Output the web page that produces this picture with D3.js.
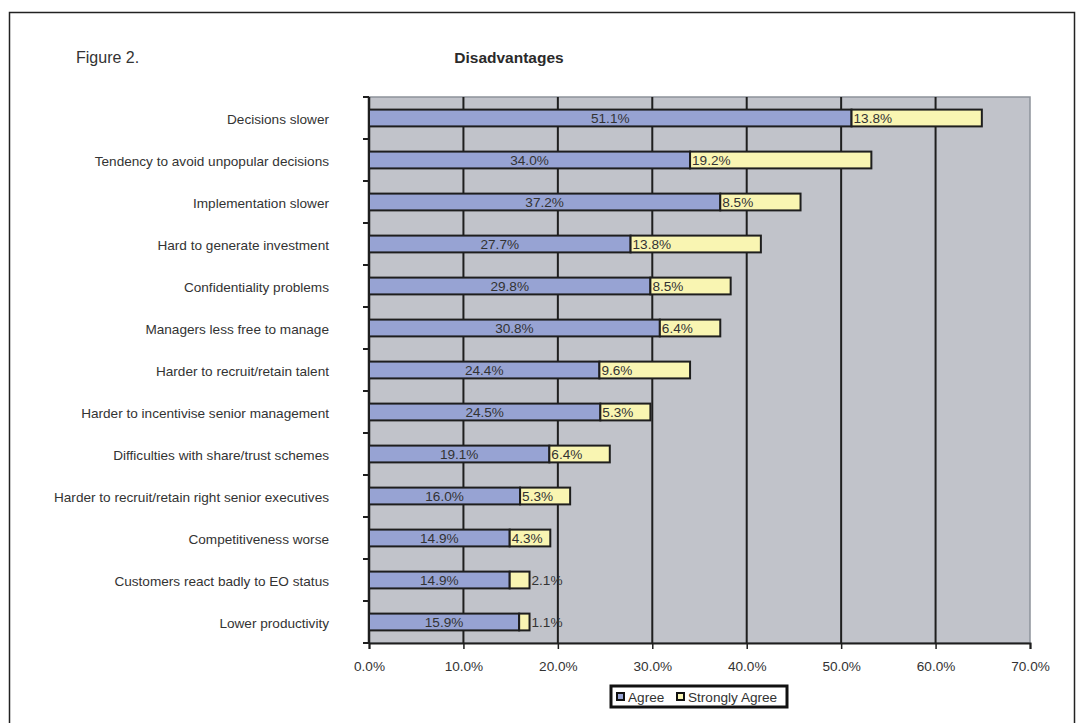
<!DOCTYPE html>
<html>
<head>
<meta charset="utf-8">
<script src="https://cdn.jsdelivr.net/npm/d3@7"></script>
<style>
html,body{margin:0;padding:0;background:#fff;}
svg{display:block;font-family:"Liberation Sans",Arial,Helvetica,sans-serif;}
</style>
</head>
<body>
<svg id="chart" width="1080" height="723"></svg>
<script>
const categories = [
  "Decisions slower",
  "Tendency to avoid unpopular decisions",
  "Implementation slower",
  "Hard to generate investment",
  "Confidentiality problems",
  "Managers less free to manage",
  "Harder to recruit/retain talent",
  "Harder to incentivise senior management",
  "Difficulties with share/trust schemes",
  "Harder to recruit/retain right senior executives",
  "Competitiveness worse",
  "Customers react badly to EO status",
  "Lower productivity"
];
const agree = [51.1, 34.0, 37.2, 27.7, 29.8, 30.8, 24.4, 24.5, 19.1, 16.0, 14.9, 14.9, 15.9];
const stronglyAgree = [13.8, 19.2, 8.5, 13.8, 8.5, 6.4, 9.6, 5.3, 6.4, 5.3, 4.3, 2.1, 1.1];
const seriesNames = ["Agree", "Strongly Agree"];
const xTicks = [0, 10, 20, 30, 40, 50, 60, 70];

const svg = d3.select("#chart");
const colAgree = "#97a3d3", colStrong = "#f9f5b2", plotBg = "#c1c3ca", textCol = "#333";
const fs = 13.6;

// outer frame
svg.append("rect").attr("x", 9.5).attr("y", 12.5).attr("width", 1065).attr("height", 730)
  .attr("fill", "none").attr("stroke", "#222").attr("stroke-width", 1.5);

svg.append("text").attr("x", 76).attr("y", 63).attr("font-size", 16).attr("fill", textCol).text("Figure 2.");
svg.append("text").attr("x", 509).attr("y", 63).attr("text-anchor", "middle").attr("font-size", 15.5)
  .attr("font-weight", "bold").attr("fill", "#2a2a2a").text("Disadvantages");

const x = d3.scaleLinear().domain([0, 70]).range([369, 1030]);
const y = d3.scaleBand().domain(categories).range([97, 643]).paddingInner(0.6).paddingOuter(0.3);

// plot background
svg.append("rect").attr("x", x(0)).attr("y", 97).attr("width", x(70) - x(0)).attr("height", 643 - 97)
  .attr("fill", plotBg).attr("stroke", "#8d939b").attr("stroke-width", 1.5);

// gridlines
svg.append("g").selectAll("line").data(xTicks.filter(t => t > 0 && t < 70)).join("line")
  .attr("x1", d => x(d)).attr("x2", d => x(d)).attr("y1", 97).attr("y2", 643)
  .attr("stroke", "#1e1e1e").attr("stroke-width", 2);

// x axis
const xAxis = d3.axisBottom(x).tickValues(xTicks).tickFormat(d => d.toFixed(1) + "%").tickSize(6).tickPadding(12);
const gx = svg.append("g").attr("transform", "translate(0,643)").call(xAxis);
gx.select(".domain").attr("stroke", "#1e1e1e").attr("stroke-width", 2);
gx.selectAll(".tick line").attr("stroke", "#1e1e1e").attr("stroke-width", 1.5);
gx.selectAll(".tick text").attr("font-size", fs).attr("fill", textCol)
  .attr("font-family", "'Liberation Sans',Arial,sans-serif");

// y axis (ticks at band boundaries)
const step = y.step();
const boundaries = d3.range(categories.length + 1).map(i => 97 + i * step);
svg.append("line").attr("x1", x(0)).attr("x2", x(0)).attr("y1", 97).attr("y2", 643)
  .attr("stroke", "#1e1e1e").attr("stroke-width", 2.5);
svg.append("g").selectAll("line").data(boundaries).join("line")
  .attr("x1", x(0) - 6).attr("x2", x(0)).attr("y1", d => d).attr("y2", d => d)
  .attr("stroke", "#1e1e1e").attr("stroke-width", 2);

// category labels
svg.append("g").selectAll("text").data(categories).join("text")
  .attr("x", 329).attr("y", d => y(d) + y.bandwidth() / 2 + 1).attr("dy", "0.35em")
  .attr("text-anchor", "end").attr("font-size", fs).attr("fill", textCol).text(d => d);

// bars
const rows = categories.map((c, i) => ({ c, a: agree[i], s: stronglyAgree[i] }));
const g = svg.append("g");
g.selectAll(".ba").data(rows).join("rect").attr("class", "ba")
  .attr("x", d => x(0)).attr("y", d => y(d.c)).attr("width", d => x(d.a) - x(0)).attr("height", y.bandwidth())
  .attr("fill", colAgree).attr("stroke", "#1e1e1e").attr("stroke-width", 2);
g.selectAll(".bs").data(rows).join("rect").attr("class", "bs")
  .attr("x", d => x(d.a)).attr("y", d => y(d.c)).attr("width", d => x(d.a + d.s) - x(d.a)).attr("height", y.bandwidth())
  .attr("fill", colStrong).attr("stroke", "#1e1e1e").attr("stroke-width", 2);

// labels
g.selectAll(".la").data(rows).join("text").attr("class", "la")
  .attr("x", d => (x(0) + x(d.a)) / 2).attr("y", d => y(d.c) + y.bandwidth() / 2).attr("dy", "0.36em")
  .attr("text-anchor", "middle").attr("font-size", fs).attr("fill", textCol).text(d => d.a.toFixed(1) + "%");
g.selectAll(".ls").data(rows).join("text").attr("class", "ls")
  .attr("x", d => (x(d.a + d.s) - x(d.a) > 34) ? x(d.a) + 2 : x(d.a + d.s) + 2)
  .attr("y", d => y(d.c) + y.bandwidth() / 2).attr("dy", "0.36em")
  .attr("font-size", fs).attr("fill", textCol).text(d => d.s.toFixed(1) + "%");

// legend
const lg = svg.append("g");
lg.append("rect").attr("x", 611).attr("y", 686).attr("width", 176).attr("height", 21)
  .attr("fill", "#fff").attr("stroke", "#111").attr("stroke-width", 3);
const legItems = [
  { name: seriesNames[0], col: colAgree, sx: 617, tx: 628 },
  { name: seriesNames[1], col: colStrong, sx: 677, tx: 688 }
];
lg.selectAll("rect.sw").data(legItems).join("rect").attr("class", "sw")
  .attr("x", d => d.sx).attr("y", 693).attr("width", 7).attr("height", 7)
  .attr("fill", d => d.col).attr("stroke", "#111").attr("stroke-width", 2);
lg.selectAll("text").data(legItems).join("text")
  .attr("x", d => d.tx).attr("y", 697).attr("dy", "0.36em").attr("font-size", fs).attr("fill", textCol)
  .text(d => d.name);
</script>
</body>
</html>
